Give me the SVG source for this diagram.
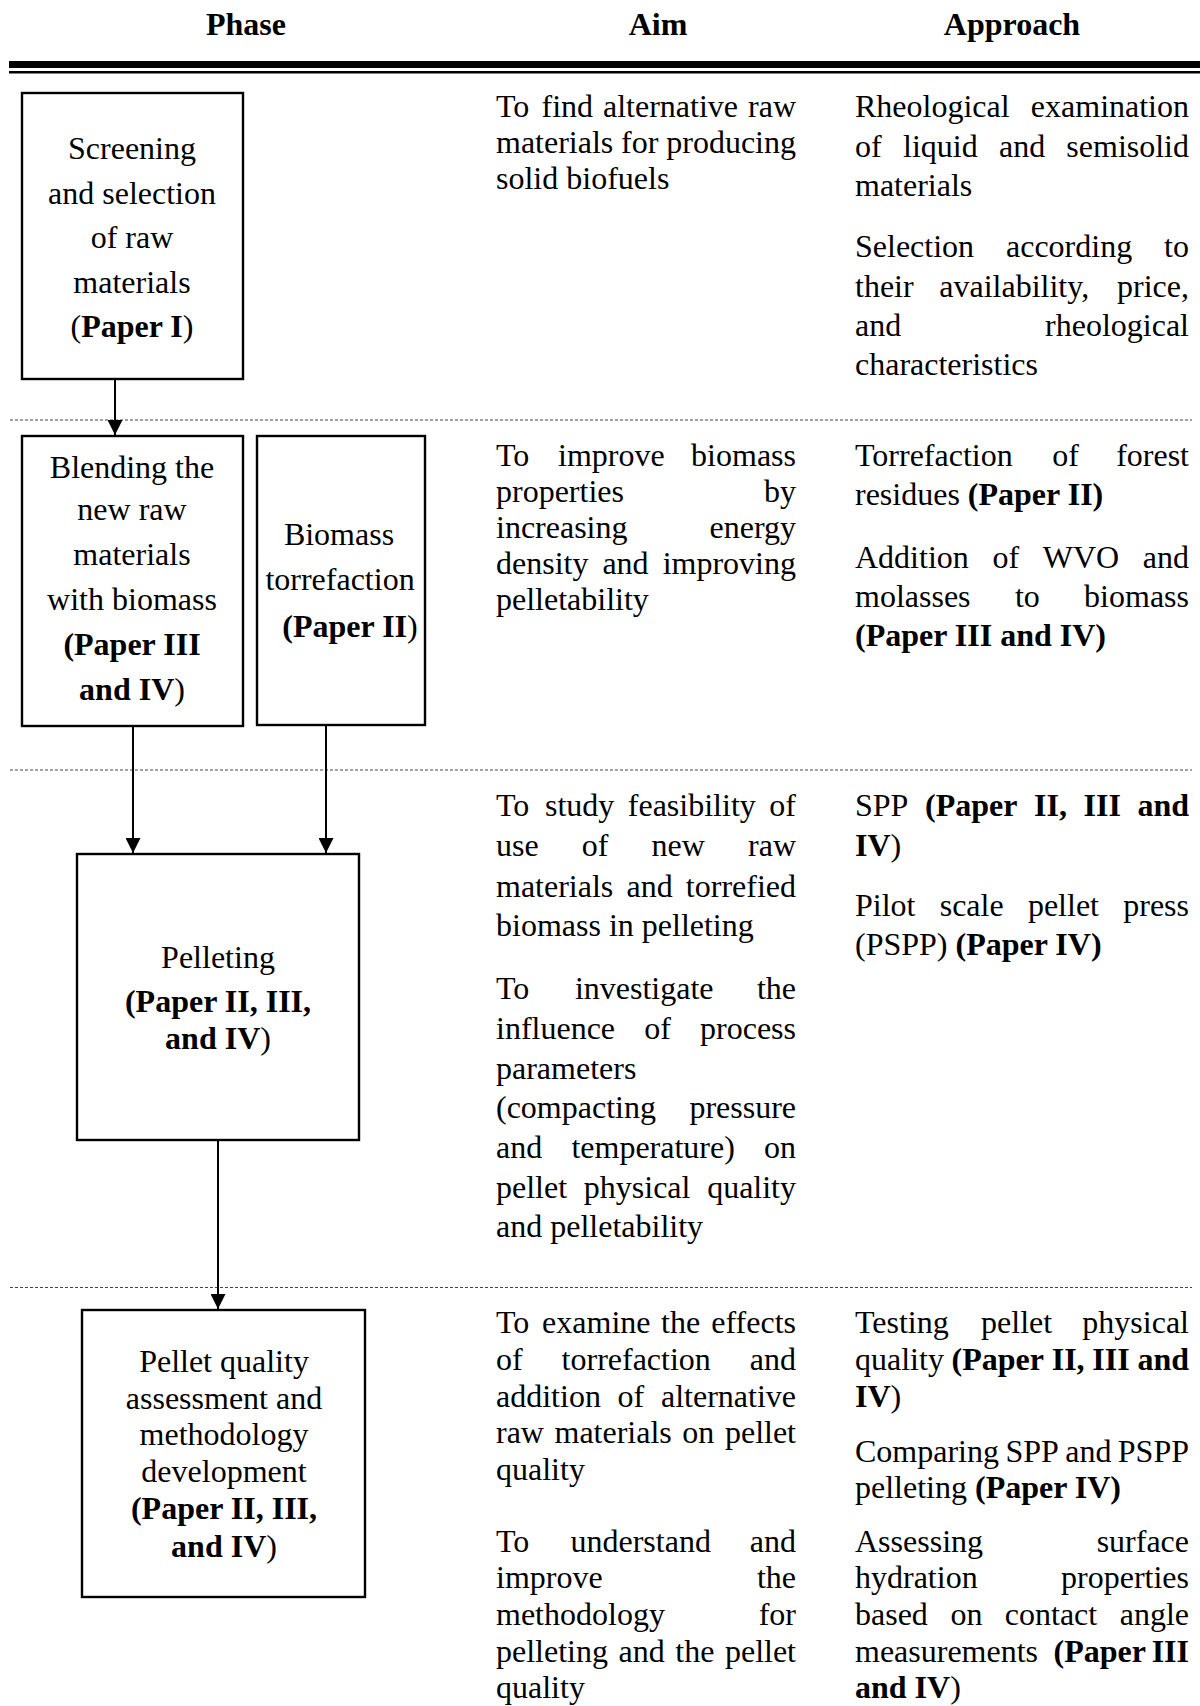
<svg xmlns="http://www.w3.org/2000/svg" width="1200" height="1706" viewBox="0 0 1200 1706">
<style>
text{font-family:"Liberation Serif","Times New Roman",serif;font-size:32px;fill:#000}
.b{font-weight:bold}
.m{text-anchor:middle}
.e{text-anchor:end}
.box{fill:#fff;stroke:#000;stroke-width:2.4}
.con{fill:none;stroke:#000;stroke-width:2;marker-end:url(#arr)}
.dash{fill:none;stroke:#444;stroke-width:1;stroke-dasharray:3 2}
</style>
<defs>
<marker id="arr" markerUnits="userSpaceOnUse" markerWidth="15" markerHeight="15" refX="15" refY="7.5" orient="auto" viewBox="0 0 15 15">
<path d="M0,0 L15,7.5 L0,15 z" fill="#000"/>
</marker>
</defs>
<rect width="1200" height="1706" fill="#fff"/>

<g id="header">
<text x="246" y="35" class="b m">Phase</text>
<text x="658" y="35" class="b m">Aim</text>
<text x="1012" y="35" class="b m">Approach</text>
<rect x="9" y="61" width="1191" height="7" fill="#000"/>
<rect x="9" y="71" width="1191" height="2.5" fill="#000"/>
</g>

<g id="separators">
<path class="dash" d="M10,420 H1192"/>
<path class="dash" d="M10,770 H1192"/>
<path class="dash" d="M10,1287.5 H1192"/>
</g>

<g id="connectors">
<path class="con" d="M115,380 V435"/>
<path class="con" d="M133,727 V853"/>
<path class="con" d="M326,726 V853"/>
<path class="con" d="M218,1141 V1309"/>
</g>

<g id="node-screening">
<rect class="box" x="22" y="93" width="221" height="286"/>
<text x="132" y="159" class="m">Screening</text>
<text x="132" y="203.5" class="m">and selection</text>
<text x="132" y="248" class="m">of raw</text>
<text x="132" y="292.5" class="m">materials</text>
<text x="132" y="337" class="m">(<tspan class="b">Paper I</tspan>)</text>
</g>

<g id="node-blending">
<rect class="box" x="22" y="436" width="221" height="290"/>
<text x="132" y="477.5" class="m">Blending the</text>
<text x="132" y="520" class="m">new raw</text>
<text x="132" y="565" class="m">materials</text>
<text x="132" y="610" class="m">with biomass</text>
<text x="132" y="655" class="m b">(Paper III</text>
<text x="132" y="700" class="m"><tspan class="b">and IV</tspan>)</text>
</g>

<g id="node-torrefaction">
<rect class="box" x="257" y="436" width="168" height="289"/>
<text x="339" y="545" class="m">Biomass</text>
<text x="340" y="590" class="m">torrefaction</text>
<text x="350" y="636.5" class="m"><tspan class="b">(Paper II</tspan>)</text>
</g>

<g id="node-pelleting">
<rect class="box" x="77" y="854" width="282" height="286"/>
<text x="218" y="967.5" class="m">Pelleting</text>
<text x="218" y="1012" class="m b">(Paper II, III,</text>
<text x="218" y="1049" class="m"><tspan class="b">and IV</tspan>)</text>
</g>

<g id="node-quality">
<rect class="box" x="82" y="1310" width="283" height="287"/>
<text x="224" y="1372" class="m">Pellet quality</text>
<text x="224" y="1408.5" class="m">assessment and</text>
<text x="224" y="1445" class="m">methodology</text>
<text x="224" y="1481.5" class="m">development</text>
<text x="224" y="1518.5" class="m b">(Paper II, III,</text>
<text x="224" y="1556.5" class="m"><tspan class="b">and IV</tspan>)</text>
</g>

<g id="aim-column">
<text y="117"><tspan x="496">To</tspan><tspan x="541.5">find</tspan><tspan x="603">alternative</tspan></text><text x="796" y="117" class="e">raw</text>
<text y="153"><tspan x="496">materials</tspan><tspan x="621.1">for</tspan></text><text x="796" y="153" class="e">producing</text>
<text x="496" y="189">solid biofuels</text>

<text y="465.5"><tspan x="496">To</tspan><tspan x="558">improve</tspan></text><text x="796" y="465.5" class="e">biomass</text>
<text x="496" y="501.5">properties</text><text x="796" y="501.5" class="e">by</text>
<text x="496" y="537.5">increasing</text><text x="796" y="537.5" class="e">energy</text>
<text y="573.5"><tspan x="496">density</tspan><tspan x="602.4">and</tspan></text><text x="796" y="573.5" class="e">improving</text>
<text x="496" y="609.5">pelletability</text>

<text y="816"><tspan x="496">To</tspan><tspan x="545">study</tspan><tspan x="627.8">feasibility</tspan></text><text x="796" y="816" class="e">of</text>
<text y="856"><tspan x="496">use</tspan><tspan x="581.8">of</tspan><tspan x="651.6">new</tspan></text><text x="796" y="856" class="e">raw</text>
<text y="896.5"><tspan x="496">materials</tspan><tspan x="626.5">and</tspan></text><text x="796" y="896.5" class="e">torrefied</text>
<text x="496" y="935.5">biomass in pelleting</text>
<text y="998.5"><tspan x="496">To</tspan><tspan x="574.9">investigate</tspan></text><text x="796" y="998.5" class="e">the</text>
<text y="1039"><tspan x="496">influence</tspan><tspan x="644.2">of</tspan></text><text x="796" y="1039" class="e">process</text>
<text x="496" y="1079">parameters</text>
<text x="496" y="1118">(compacting</text><text x="796" y="1118" class="e">pressure</text>
<text y="1158"><tspan x="496">and</tspan><tspan x="571.4">temperature)</tspan></text><text x="796" y="1158" class="e">on</text>
<text y="1198"><tspan x="496">pellet</tspan><tspan x="583.8">physical</tspan></text><text x="796" y="1198" class="e">quality</text>
<text x="496" y="1237">and pelletability</text>

<text y="1333"><tspan x="496">To</tspan><tspan x="542.1">examine</tspan><tspan x="661">the</tspan></text><text x="796" y="1333" class="e">effects</text>
<text y="1370"><tspan x="496">of</tspan><tspan x="561.6">torrefaction</tspan></text><text x="796" y="1370" class="e">and</text>
<text y="1406.5"><tspan x="496">addition</tspan><tspan x="617.6">of</tspan></text><text x="796" y="1406.5" class="e">alternative</text>
<text y="1443"><tspan x="496">raw</tspan><tspan x="554.5">materials</tspan><tspan x="682.3">on</tspan></text><text x="796" y="1443" class="e">pellet</text>
<text x="496" y="1480">quality</text>
<text y="1551.5"><tspan x="496">To</tspan><tspan x="570.5">understand</tspan></text><text x="796" y="1551.5" class="e">and</text>
<text x="496" y="1588">improve</text><text x="796" y="1588" class="e">the</text>
<text x="496" y="1625">methodology</text><text x="796" y="1625" class="e">for</text>
<text y="1661.5"><tspan x="496">pelleting</tspan><tspan x="618.5">and</tspan><tspan x="675.3">the</tspan></text><text x="796" y="1661.5" class="e">pellet</text>
<text x="496" y="1698">quality</text>
</g>

<g id="approach-column">
<text x="855" y="117">Rheological</text><text x="1189" y="117" class="e">examination</text>
<text y="157"><tspan x="855">of</tspan><tspan x="903">liquid</tspan><tspan x="999">and</tspan></text><text x="1189" y="157" class="e">semisolid</text>
<text x="855" y="196">materials</text>
<text y="256.5"><tspan x="855">Selection</tspan><tspan x="1006">according</tspan></text><text x="1189" y="256.5" class="e">to</text>
<text y="296.5"><tspan x="855">their</tspan><tspan x="939.3">availability,</tspan></text><text x="1189" y="296.5" class="e">price,</text>
<text x="855" y="336">and</text><text x="1189" y="336" class="e">rheological</text>
<text x="855" y="375">characteristics</text>

<text y="465.5"><tspan x="855">Torrefaction</tspan><tspan x="1052.2">of</tspan></text><text x="1189" y="465.5" class="e">forest</text>
<text x="855" y="505">residues <tspan class="b">(Paper II)</tspan></text>
<text y="568"><tspan x="855">Addition</tspan><tspan x="992.4">of</tspan><tspan x="1042.7">WVO</tspan></text><text x="1189" y="568" class="e">and</text>
<text y="607"><tspan x="855">molasses</tspan><tspan x="1014.9">to</tspan></text><text x="1189" y="607" class="e">biomass</text>
<text x="855" y="646" class="b">(Paper III and IV)</text>

<text y="816"><tspan x="855">SPP</tspan><tspan x="925" class="b">(Paper</tspan><tspan x="1034" class="b">II,</tspan><tspan x="1083.5" class="b">III</tspan></text><text x="1189" y="816" class="e b">and</text>
<text x="855" y="856"><tspan class="b">IV</tspan>)</text>
<text y="916"><tspan x="855">Pilot</tspan><tspan x="939.7">scale</tspan><tspan x="1027.9">pellet</tspan></text><text x="1189" y="916" class="e">press</text>
<text x="855" y="954.5">(PSPP) <tspan class="b">(Paper IV)</tspan></text>

<text y="1333"><tspan x="855">Testing</tspan><tspan x="981.1">pellet</tspan></text><text x="1189" y="1333" class="e">physical</text>
<text y="1370"><tspan x="855">quality</tspan><tspan x="951.6" class="b">(Paper</tspan><tspan x="1051.7" class="b">II,</tspan><tspan x="1092.3" class="b">III</tspan></text><text x="1189" y="1370" class="e b">and</text>
<text x="855" y="1406.5"><tspan class="b">IV</tspan>)</text>
<text y="1461.5"><tspan x="855">Comparing</tspan><tspan x="1005.4">SPP</tspan><tspan x="1065.2">and</tspan></text><text x="1189" y="1461.5" class="e">PSPP</text>
<text x="855" y="1498">pelleting <tspan class="b">(Paper IV)</tspan></text>
<text x="855" y="1551.5">Assessing</text><text x="1189" y="1551.5" class="e">surface</text>
<text x="855" y="1588">hydration</text><text x="1189" y="1588" class="e">properties</text>
<text y="1625"><tspan x="855">based</tspan><tspan x="950.4">on</tspan><tspan x="1004.8">contact</tspan></text><text x="1189" y="1625" class="e">angle</text>
<text y="1661.5"><tspan x="855">measurements</tspan><tspan x="1053.5" class="b">(Paper</tspan></text><text x="1189" y="1661.5" class="e b">III</text>
<text x="855" y="1698"><tspan class="b">and IV</tspan>)</text>
</g>
</svg>
